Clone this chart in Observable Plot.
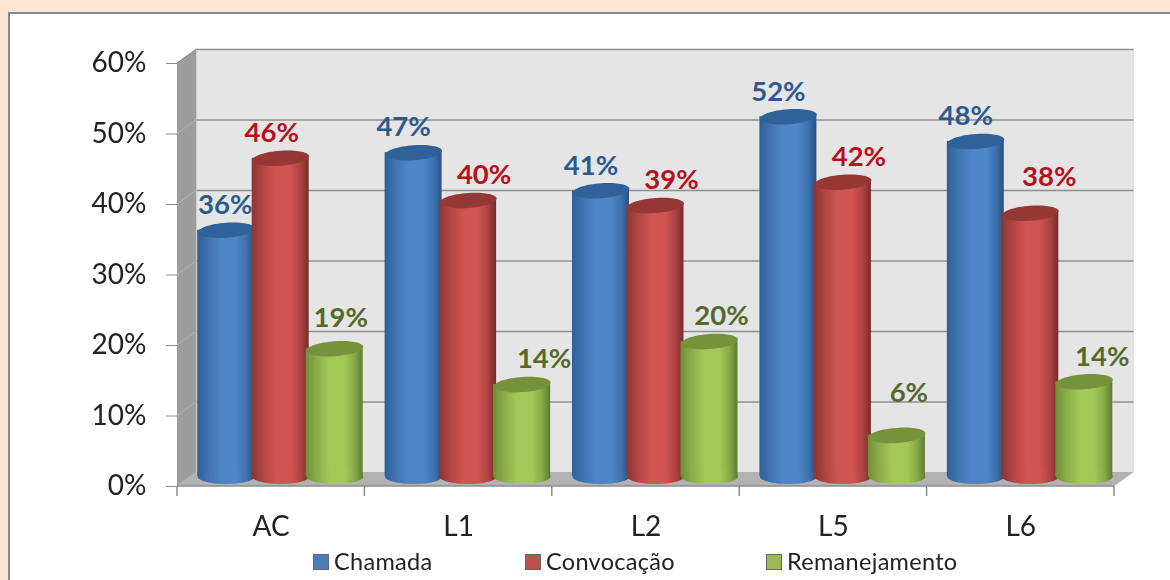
<!DOCTYPE html>
<html>
<head>
<meta charset="utf-8">
<script src="https://cdn.jsdelivr.net/npm/d3@7"></script>
<script src="https://cdn.jsdelivr.net/npm/@observablehq/plot@0.6"></script>
<style>
  html, body { margin: 0; padding: 0; width: 1170px; height: 580px; overflow: hidden; background: #fee6d2; }
  #panel { position: absolute; left: 8px; top: 12px; right: 0; bottom: 0; background: #fff; border-left: 2px solid #8a8a8a; border-top: 2px solid #8a8a8a; }
  #chart { position: absolute; left: 0; top: 0; filter: blur(0.4px); }
  .key { position: absolute; top: 547px; font: 23.5px/28px Lato, sans-serif; color: #222; white-space: nowrap; filter: blur(0.4px); }
  .key i { position: absolute; left: 0; top: 7px; width: 16px; height: 16px; box-sizing: border-box; border: 1px solid #666; }
  .key span { position: absolute; left: 21px; top: 0; letter-spacing: .3px; }
</style>
</head>
<body>
<div id="panel"></div>
<div id="chart"></div>
<script>
const categories = ["AC", "L1", "L2", "L5", "L6"];
const chamada = [35.5, 46.5, 41.1, 51.6, 48.1];
const convocacao = [45.7, 39.7, 39.0, 42.3, 37.9];
const remanejamento = [18.7, 13.6, 19.7, 6.4, 14.0];
const yTicks = [0, 10, 20, 30, 40, 50, 60];
const seriesNames = ["Chamada", "Convocação", "Remanejamento"];

const rows = (values) => values.map((value, i) => ({category: categories[i], value}));

/* styling of each series, and hand placement of the value labels */
const styles = [
  {name: seriesNames[0], data: rows(chamada), id: "cylBlue", edge: "#2f6098", mid: "#4f86c8", top: "#2f6298", text: "#2d5a8e", swatch: "#4a7ebb", dx: -45, labelDx: -10,
   nudge: {AC: {dx: -1}}},
  {name: seriesNames[1], data: rows(convocacao), id: "cylRed", edge: "#8c3432", mid: "#d05450", top: "#973735", text: "#b5121b", swatch: "#c0504d", dx: 9.5, labelDx: 16,
   nudge: {AC: {dx: -9}, L6: {dx: 19, dy: -36}}},
  {name: seriesNames[2], data: rows(remanejamento), id: "cylGreen", edge: "#6f8f38", mid: "#a4c858", top: "#76933c", text: "#546a2b", swatch: "#9bbb59", dx: 63.5, labelDx: 12,
   nudge: {AC: {dx: 6, dy: -30}, L1: {dx: 22}, L5: {dy: -42}, L6: {dx: 18}}}
];

const depthX = 19.5, depthY = -14;
const barW = 57, rx = 28.5, ry = 7.5;

const ellipse = (tilt) => ({
  draw(c) {
    const k = 0.5523;
    const p = (x, y) => [x, y - tilt * x];
    c.moveTo(...p(-rx, 0));
    c.bezierCurveTo(...p(-rx, -k * ry), ...p(-k * rx, -ry), ...p(0, -ry));
    c.bezierCurveTo(...p(k * rx, -ry), ...p(rx, -k * ry), ...p(rx, 0));
    c.bezierCurveTo(...p(rx, k * ry), ...p(k * rx, ry), ...p(0, ry));
    c.bezierCurveTo(...p(-k * rx, ry), ...p(-rx, k * ry), ...p(-rx, 0));
    c.closePath();
  }
});

const gradients = () => {
  const g = d3.create("svg:defs");
  for (const s of styles) {
    const lg = g.append("linearGradient").attr("id", s.id);
    const mix = d3.interpolateRgb(s.edge, s.mid);
    [[0, s.edge], [0.2, mix(0.55)], [0.42, s.mid], [0.68, s.mid], [0.86, mix(0.45)], [1, d3.color(s.edge).darker(0.45)]].forEach(([o, c]) =>
      lg.append("stop").attr("offset", o).attr("stop-color", c));
  }
  return g.node();
};

/* side wall, floor, front axis line, depth ticks and category ticks */
const shell = (index, scales, values, dims) => {
  const {x, y} = scales;
  const L = dims.marginLeft, R = dims.width - dims.marginRight;
  const y0 = y(0), yT = y(60);
  const g = d3.create("svg:g");
  const poly = (pts, fill) => g.append("polygon").attr("points", pts.map(p => p.join(",")).join(" ")).attr("fill", fill);
  poly([[L, yT], [L + depthX, yT + depthY], [L + depthX, y0 + depthY], [L, y0]], "#9d9d9d");
  poly([[L, y0], [L + depthX, y0 + depthY], [R + depthX, y0 + depthY], [R, y0]], "#b2b2b2");
  const line = (x1, y1, x2, y2, stroke, w) => g.append("line").attr("x1", x1).attr("y1", y1).attr("x2", x2).attr("y2", y2).attr("stroke", stroke).attr("stroke-width", w);
  for (const t of yTicks) line(L, y(t), L + depthX, y(t) + depthY, "#b4b4b4", 1);
  line(L, y0, R, y0, "#8c8c8c", 1.5);
  line(L, yT, L + depthX, yT + depthY, "#8c8c8c", 1);
  line(R, y0, R + depthX, y0 + depthY, "#c4c4c4", 1);
  const edges = [...categories.map(c => x(c)), x(categories[categories.length - 1]) + x.bandwidth()];
  for (const e of edges) line(e, y0, e, y0 + 10, "#8c8c8c", 1.5);
  return g.node();
};

const cylinders = styles.flatMap(s => [
  Plot.barY(s.data, {x: "category", y: "value", fill: `url(#${s.id})`, dx: s.dx, dy: -6,
    insetLeft: (187.4 - barW) / 2, insetRight: (187.4 - barW) / 2, insetBottom: 4}),
  Plot.dot(s.data, {x: "category", y: () => 0, symbol: ellipse(0), fill: `url(#${s.id})`, stroke: "none", dx: s.dx, dy: -10}),
  Plot.dot(s.data, {x: "category", y: "value", symbol: ellipse(0.07), fill: s.top, stroke: "none", dx: s.dx, dy: -6})
]);

const labels = styles.flatMap(s => s.data.map(d => {
  const n = s.nudge[d.category] || {};
  return Plot.text([d], {x: "category", y: "value", text: v => `${Math.round(v.value)}%`,
    fill: s.text, fontWeight: 700, fontSize: 27.5,
    dx: s.dx + (n.dx ?? s.labelDx), dy: -6 + (n.dy ?? -25)});
}));

const chart = Plot.plot({
  width: 1170, height: 545,
  marginLeft: 177, marginRight: 56, marginTop: 63, marginBottom: 59,
  style: {background: "transparent", fontFamily: "Lato, sans-serif", overflow: "visible"},
  x: {domain: categories, padding: 0, round: false, label: null},
  y: {domain: [0, 60], label: null},
  marks: [
    gradients,
    Plot.frame({fill: "#e5e5e5", stroke: "none", dx: depthX, dy: depthY}),
    Plot.ruleY(yTicks.slice(1), {y: d => d, stroke: "#8f8f8f", strokeWidth: 1.6, dx: depthX, dy: depthY}),
    shell,
    ...cylinders,
    ...labels,
    Plot.axisY({ticks: yTicks, tickFormat: d => `${d}%`, tickSize: 11, tickPadding: 20, fontSize: 28, stroke: "#8c8c8c", fill: "#222", label: null}),
    Plot.axisX({tickSize: 0, tickPadding: 30, fontSize: 28, fill: "#222", label: null})
  ]
});
document.getElementById("chart").append(chart);

/* legend, as HTML below the SVG */
const keyLefts = [313, 525, 766];
styles.forEach((s, i) => {
  const k = document.createElement("div");
  k.className = "key";
  k.style.left = keyLefts[i] + "px";
  k.innerHTML = `<i style="background:${s.swatch}"></i><span>${s.name}</span>`;
  document.body.append(k);
});
</script>
</body>
</html>
